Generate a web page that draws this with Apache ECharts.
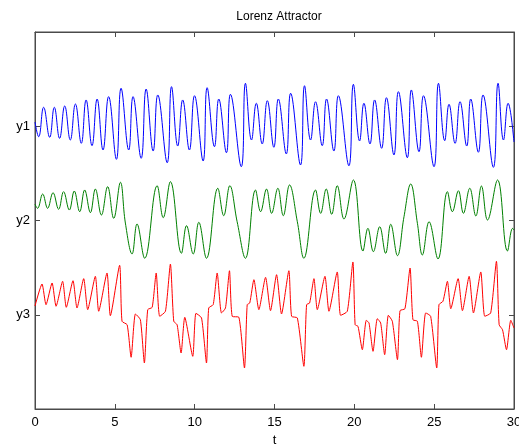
<!DOCTYPE html>
<html>
<head>
<meta charset="utf-8">
<script src="https://cdn.jsdelivr.net/npm/echarts@6/dist/echarts.min.js"></script>
<style>
html,body{margin:0;padding:0;background:#fff;}
#chart{width:519px;height:448px;}
</style>
</head>
<body>
<div id="chart"></div>
<script>
// Tick labels
var xTicks = [0, 5, 10, 15, 20, 25, 30];
var yTickLabels = {1: 'y3', 2: 'y2', 3: 'y1'};

// y1 (blue): time of each extremum and its plotted level
var t1 = [0,0.23,0.54,0.92,1.21,1.54,1.86,2.21,2.53,2.90,3.20,3.57,3.89,4.26,4.61,5.10,5.39,5.87,6.14,6.65,6.96,7.40,7.69,8.28,8.55,8.94,9.25,9.67,9.99,
  10.53,10.78,11.24,11.51,11.99,12.24,12.92,13.18,13.56,13.86,14.23,14.55,14.96,15.24,15.74,16.01,16.63,16.88,17.26,17.57,17.99,18.26,18.72,19.00,19.66,19.94,
  20.33,20.60,20.98,21.27,21.71,22.01,22.48,22.76,23.32,23.57,24.05,24.33,24.99,25.27,25.66,25.93,26.31,26.62,27.04,27.29,27.77,28.06,28.71,29.00,29.34,29.63,30.00];
var y1 = [3.045,2.889,3.201,2.883,3.201,2.872,3.215,2.854,3.236,2.819,3.279,2.794,3.289,2.748,3.314,2.649,3.403,2.748,3.314,2.660,3.395,2.737,3.332,2.613,3.420,2.790,3.279,2.748,3.324,
  2.631,3.409,2.783,3.289,2.719,3.339,2.571,3.456,2.854,3.244,2.812,3.271,2.777,3.289,2.706,3.350,2.589,3.430,2.854,3.260,2.794,3.289,2.737,3.324,2.581,3.445,
  2.844,3.244,2.812,3.279,2.766,3.303,2.695,3.367,2.666,3.385,2.730,3.324,2.571,3.456,2.847,3.233,2.819,3.260,2.790,3.289,2.724,3.332,2.564,3.456,2.854,3.244,2.833];

// y2 (green)
var t2 = [0,0.16,0.48,0.79,1.13,1.48,1.79,2.15,2.46,2.80,3.11,3.47,3.78,4.16,4.55,4.93,5.35,5.66,6.08,6.39,6.87,7.65,8.03,8.48,9.17,9.49,9.91,
  10.26,10.74,11.45,11.82,12.20,12.66,13.18,13.81,14.13,14.50,14.82,15.21,15.55,15.94,16.43,16.84,17.57,17.89,18.24,18.58,18.93,19.35,19.94,
  20.54,20.85,21.19,21.59,21.96,22.28,22.70,23.11,23.53,23.95,24.26,24.68,25.24,25.83,26.14,26.52,26.83,27.23,27.61,27.96,28.34,28.97,29.59,29.91,30.00];
var y2 = [2.172,2.129,2.281,2.129,2.295,2.119,2.306,2.111,2.313,2.093,2.324,2.083,2.334,2.058,2.359,2.023,2.405,1.973,1.645,1.963,1.599,2.369,2.030,2.412,1.652,1.945,1.645,
  1.981,1.599,2.342,2.051,2.369,1.987,1.599,2.324,2.093,2.334,2.076,2.342,2.051,2.377,1.987,1.599,2.324,2.076,2.334,2.066,2.369,2.016,2.430,
  1.676,1.917,1.669,1.934,1.652,1.960,1.627,2.040,2.387,1.970,1.634,1.987,1.592,2.306,2.093,2.316,2.076,2.342,2.048,2.366,2.005,2.430,1.676,1.917,1.899];

// y3 (red)
var t3 = [0,0.44,0.69,1.07,1.32,1.73,1.96,2.38,2.63,3.05,3.30,3.78,3.99,4.51,4.72,5.30,5.45,5.77,6.02,6.29,6.60,6.85,7.06,7.34,7.59,7.81,8.17,8.48,8.69,8.90,9.15,9.38,9.88,
  10.08,10.43,10.74,10.88,11.16,11.41,11.68,11.93,12.18,12.35,12.77,13.12,13.29,13.45,13.71,14.02,14.44,14.75,15.13,15.44,15.90,16.07,16.43,16.84,17.01,17.20,17.47,17.68,18.16,18.41,18.93,19.14,19.56,19.91,
  20.05,20.23,20.50,20.75,20.92,21.17,21.44,21.65,21.90,22.13,22.38,22.70,22.86,23.17,23.49,23.67,23.95,24.20,24.47,24.78,25.16,25.30,25.55,25.83,26.04,26.50,26.77,27.19,27.46,27.92,28.17,28.54,28.90,29.07,29.28,29.53,29.80,30.00];
var y3 = [1.093,1.326,1.107,1.337,1.090,1.355,1.079,1.361,1.072,1.383,1.054,1.408,1.037,1.443,0.990,1.525,0.931,0.894,0.549,1.008,0.947,0.488,1.054,1.079,1.443,0.984,1.037,1.538,0.931,0.894,0.594,0.973,0.559,
  1.015,0.966,0.488,1.072,1.107,1.443,1.019,1.072,1.467,0.984,0.973,0.435,1.107,1.125,1.372,1.054,1.397,1.043,1.425,1.008,1.467,0.984,0.966,0.453,1.107,1.125,1.383,1.054,1.408,1.037,1.454,0.994,1.037,1.560,
  0.894,0.877,0.629,0.941,0.912,0.612,0.958,0.912,0.576,0.994,0.931,0.523,1.043,1.064,1.496,0.947,0.931,0.549,1.019,0.984,0.435,1.107,1.143,1.355,1.064,1.383,1.043,1.408,1.019,1.454,0.984,1.019,1.567,0.894,0.841,0.629,0.941,0.859];

function pairs(ts, vs) { return ts.map(function (t, i) { return [t, vs[i]]; }); }

var frame = '#4a4a4a';
var font = 'Liberation Sans, Arial, Helvetica, sans-serif';

function tickStyle() { return {show: true, inside: true, length: 5, lineStyle: {color: frame, width: 1}}; }

var chart = echarts.init(document.getElementById('chart'), null, {renderer: 'canvas'});
chart.setOption({
  animation: false,
  backgroundColor: '#fff',
  title: {
    text: 'Lorenz Attractor', left: 274, top: 6, textAlign: 'center',
    textStyle: {fontFamily: font, fontSize: 12, fontWeight: 'normal', color: '#000'}
  },
  grid: {left: 35, right: 5, top: 32, bottom: 39, containLabel: false, outerBoundsMode: 'none',
    show: true, borderColor: frame, borderWidth: 1, backgroundColor: 'transparent'},
  xAxis: [{
    type: 'value', min: 0, max: 30, interval: 5, position: 'bottom',
    name: 't', nameLocation: 'middle', nameGap: 24,
    nameTextStyle: {fontFamily: font, fontSize: 13, color: '#000'},
    axisLine: {show: true, onZero: false, lineStyle: {color: frame, width: 1}},
    axisTick: tickStyle(),
    axisLabel: {fontFamily: font, fontSize: 13, color: '#000', margin: 7,
      formatter: function (v) { return xTicks.indexOf(v) >= 0 ? String(v) : ''; }},
    splitLine: {show: false}
  }, {
    type: 'value', min: 0, max: 30, interval: 5, position: 'top',
    axisLine: {show: true, onZero: false, lineStyle: {color: frame, width: 1}},
    axisTick: tickStyle(),
    axisLabel: {show: false}, splitLine: {show: false}
  }],
  yAxis: [{
    type: 'value', min: 0, max: 4, interval: 1, position: 'left',
    axisLine: {show: true, onZero: false, lineStyle: {color: frame, width: 1}},
    axisTick: tickStyle(),
    axisLabel: {fontFamily: font, fontSize: 13, color: '#000', margin: 5,
      formatter: function (v) { return yTickLabels[v] || ''; }},
    splitLine: {show: false}
  }, {
    type: 'value', min: 0, max: 4, interval: 1, position: 'right',
    axisLine: {show: true, onZero: false, lineStyle: {color: frame, width: 1}},
    axisTick: tickStyle(),
    axisLabel: {show: false}, splitLine: {show: false}
  }],
  series: [{
    type: 'line', name: 'y1', data: pairs(t1, y1), showSymbol: false, smooth: 0.45,
    xAxisIndex: 0, yAxisIndex: 0,
    lineStyle: {color: '#0000ff', width: 1}, itemStyle: {color: '#0000ff'}, clip: true
  }, {
    type: 'line', name: 'y2', data: pairs(t2, y2), showSymbol: false, smooth: 0.4,
    xAxisIndex: 1, yAxisIndex: 1,
    lineStyle: {color: '#008000', width: 1}, itemStyle: {color: '#008000'}, clip: true
  }, {
    type: 'line', name: 'y3', data: pairs(t3, y3), showSymbol: false, smooth: 0.2,
    xAxisIndex: 0, yAxisIndex: 0,
    lineStyle: {color: '#ff0000', width: 1}, itemStyle: {color: '#ff0000'}, clip: true
  }]
});
</script>
</body>
</html>
